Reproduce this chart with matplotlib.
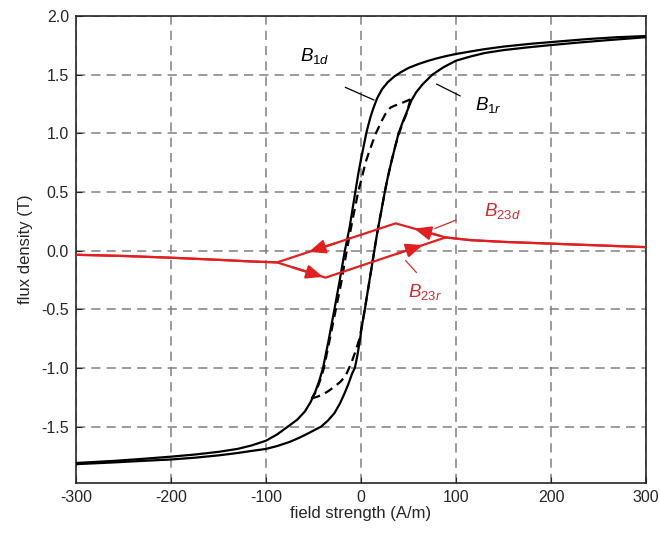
import numpy as np
import matplotlib
matplotlib.use("Agg")
import matplotlib.pyplot as plt

plt.rcParams['font.family'] = ['Liberation Sans', 'DejaVu Sans']
plt.rcParams['mathtext.fontset'] = 'custom'
plt.rcParams['mathtext.it'] = 'Liberation Sans:italic'
plt.rcParams['mathtext.rm'] = 'Liberation Sans'

# ---- major loop B1: descending branch (B1d) ----
h_1d = [300, 270, 240, 210, 180, 150, 130, 115, 100, 90, 80, 70, 60, 50, 42, 35,
        28, 22, 17, 13, 10, 7.5, 5.5, 3, 0, -3, -6, -9, -12, -14.5, -17, -20,
        -23, -25.5, -28, -31, -34, -37, -40, -44, -48, -53, -59, -67, -77, -88,
        -100, -115, -130, -150, -175, -200, -230, -260, -300]
b_1d = [1.830, 1.820, 1.805, 1.785, 1.765, 1.740, 1.718, 1.698, 1.677, 1.660,
        1.640, 1.617, 1.590, 1.558, 1.522, 1.485, 1.435, 1.375, 1.300, 1.215,
        1.140, 1.065, 1.000, 0.900, 0.780, 0.650, 0.500, 0.350, 0.200, 0.100,
        0.000, -0.140, -0.280, -0.390, -0.500, -0.630, -0.760, -0.880, -1.000,
        -1.110, -1.200, -1.290, -1.370, -1.440, -1.500, -1.565, -1.620, -1.660,
        -1.690, -1.715, -1.738, -1.756, -1.775, -1.792, -1.810]

# ---- major loop B1: ascending branch (B1r) ----
h_1r = [-300, -260, -230, -200, -175, -150, -130, -115, -100, -88, -75, -65, -55,
        -48, -42, -35, -28, -22, -17, -13, -9.5, -6.5, -4, -1.5, 1, 4, 7, 10, 12,
        14, 17, 20, 22.5, 25, 28, 32, 36, 39.5, 44, 48, 53, 58, 65, 75, 87, 100,
        115, 130, 150, 175, 200, 230, 260, 300]
b_1r = [-1.820, -1.805, -1.792, -1.780, -1.765, -1.745, -1.725, -1.707, -1.690,
        -1.665, -1.630, -1.595, -1.555, -1.525, -1.500, -1.450, -1.385, -1.300,
        -1.210, -1.130, -1.050, -1.000, -0.900, -0.780, -0.640, -0.500, -0.350,
        -0.200, -0.100, 0.000, 0.150, 0.280, 0.390, 0.500, 0.620, 0.760, 0.890,
        1.000, 1.100, 1.180, 1.280, 1.350, 1.420, 1.500, 1.565, 1.620, 1.655,
        1.685, 1.710, 1.733, 1.753, 1.775, 1.795, 1.820]

# ---- minor loop (dashed) ----
h_md = [52, 46, 40, 35, 31, 26, 22, 18.5, 15.6, 11.5, 8, 5.5, 3.5, 0.5, -3, -6,
        -9, -12, -15, -18, -21, -24, -27, -30, -33, -36, -39, -42, -45, -48, -52]
b_md = [1.29, 1.27, 1.25, 1.235, 1.22, 1.17, 1.11, 1.05, 1.0, 0.91, 0.83, 0.77,
        0.71, 0.61, 0.5, 0.38, 0.26, 0.13, 0.0, -0.14, -0.28, -0.40, -0.52,
        -0.64, -0.76, -0.88, -1.0, -1.08, -1.15, -1.21, -1.26]
h_mr = [-52, -46, -40, -34, -28, -22, -16.5, -12.5, -9, -5.5, -2, 1, 4, 7, 10,
        14, 17, 20, 25, 28, 32, 36, 40, 44, 48, 52]
b_mr = [-1.26, -1.245, -1.225, -1.195, -1.16, -1.12, -1.07, -1.0, -0.93, -0.85,
        -0.76, -0.64, -0.5, -0.35, -0.2, 0.0, 0.15, 0.28, 0.5, 0.62, 0.76, 0.89,
        1.0, 1.09, 1.17, 1.29]

# ---- B23 loop (red) ----
h_23d = [300, 250, 200, 150, 115, 89, 36.4, -88.4, -115, -150, -200, -250, -300]
b_23d = [0.03, 0.045, 0.06, 0.075, 0.09, 0.113, 0.233, -0.10, -0.092, -0.078,
         -0.06, -0.045, -0.035]
h_23r = [-300, -250, -200, -150, -115, -88.4, -37.4, 89, 115, 150, 200, 250, 300]
b_23r = [-0.035, -0.045, -0.06, -0.078, -0.092, -0.10, -0.23, 0.113, 0.09, 0.075,
         0.06, 0.045, 0.03]

# arrow positions along the red loop (tail H, tip H)
arrows_d = [(-28, -55), (82, 56)]
arrows_r = [(-72, -40), (38, 65)]

x_ticks = [-300, -200, -100, 0, 100, 200, 300]
y_ticks = [-1.5, -1.0, -0.5, 0.0, 0.5, 1.0, 1.5, 2.0]

RED = '#e02020'
TRED = '#c83030'

fig = plt.figure(figsize=(6.6, 5.36), dpi=100)
ax = fig.add_axes([0.115, 0.099, 0.864, 0.871])

ax.plot(h_1d, b_1d, color='black', lw=1.6, zorder=3)
ax.plot(h_1r, b_1r, color='black', lw=1.6, zorder=3)
ax.plot(h_md, b_md, color='black', lw=1.6, ls=(0, (4, 2.5)), zorder=3)
ax.plot(h_mr, b_mr, color='black', lw=1.6, ls=(0, (4, 2.5)), zorder=3)
ax.plot(h_23d, b_23d, color=RED, lw=1.6, zorder=4)
ax.plot(h_23r, b_23r, color=RED, lw=1.6, zorder=4)

def interp_path(hs, bs, h):
    hs = np.asarray(hs); bs = np.asarray(bs)
    order = np.argsort(hs)
    return np.interp(h, hs[order], bs[order])

up_h, up_b = h_23d[5:8], b_23d[5:8]
lo_h, lo_b = h_23r[5:8], b_23r[5:8]
astyle = '-|>,head_length=1.0,head_width=0.42'
for t, p in arrows_d:
    ax.annotate('', xy=(p, interp_path(up_h, up_b, p)),
                xytext=(t, interp_path(up_h, up_b, t)),
                arrowprops=dict(arrowstyle=astyle, color=RED, lw=1.6,
                                shrinkA=0, shrinkB=0), zorder=5)
for t, p in arrows_r:
    ax.annotate('', xy=(p, interp_path(lo_h, lo_b, p)),
                xytext=(t, interp_path(lo_h, lo_b, t)),
                arrowprops=dict(arrowstyle=astyle, color=RED, lw=1.6,
                                shrinkA=0, shrinkB=0), zorder=5)

# labels and leader lines
ax.text(-64, 1.66, r'$B_{1d}$', fontsize=13.5, color='black', va='center', ha='left')
ax.plot([-16.4, 13.5], [1.392, 1.285], color='black', lw=0.9)
ax.text(120, 1.24, r'$B_{1r}$', fontsize=13.5, color='black', va='center', ha='left')
ax.plot([79.6, 104.2], [1.42, 1.32], color='black', lw=0.9)
ax.text(129, 0.34, r'$B_{23d}$', fontsize=13.5, color=TRED, va='center', ha='left')
ax.plot([77.9, 99.7], [0.19, 0.26], color=TRED, lw=0.9)
ax.text(49, -0.35, r'$B_{23r}$', fontsize=13.5, color=TRED, va='center', ha='left')
ax.plot([47, 58.2], [-0.085, -0.185], color=TRED, lw=0.9)

ax.set_xlim(-300, 300)
ax.set_ylim(-1.98, 2.0)
ax.set_xticks(x_ticks)
ax.set_xticklabels([str(v) for v in x_ticks])
ax.set_yticks(y_ticks)
ax.set_yticklabels(['%.1f' % v for v in y_ticks])
ax.grid(True, color='#808080', ls=(0, (6, 4)), lw=1.1)
ax.set_axisbelow(True)
ax.tick_params(direction='in', length=4, width=0.8, labelsize=11.5, colors='#262626',
               top=False, right=False, pad=5)
for s in ax.spines.values():
    s.set_color('#262626')
    s.set_linewidth(1.2)
ax.set_xlabel('field strength (A/m)', fontsize=12, color='#262626', labelpad=1)
ax.set_ylabel('flux density (T)', fontsize=12, color='#262626', labelpad=6)

fig.savefig('out.png', dpi=100)
